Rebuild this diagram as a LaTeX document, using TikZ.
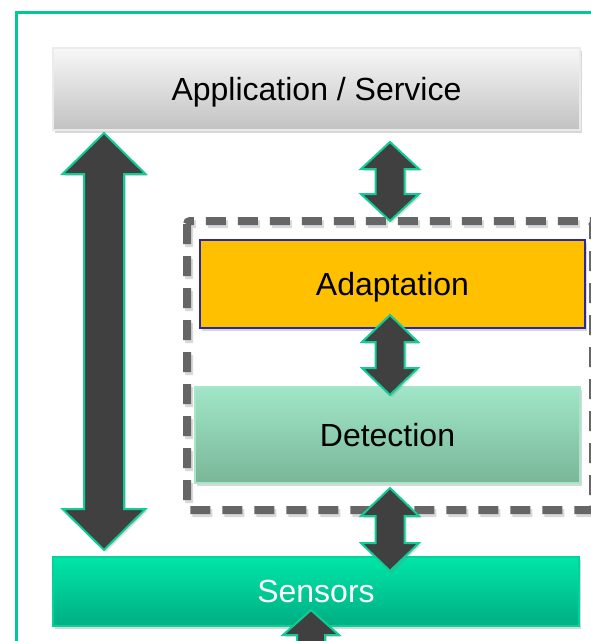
\documentclass[tikz,border=0pt]{standalone}
\usepackage{fontspec}
\setmainfont{Liberation Sans}
\usetikzlibrary{calc,shadows,positioning}
\definecolor{frameg}{HTML}{00C896}
\definecolor{arrfill}{HTML}{404040}
\definecolor{arredge}{HTML}{10CC96}
\definecolor{dashg}{HTML}{666666}
\definecolor{adaptf}{HTML}{FFC000}
\definecolor{adaptd}{HTML}{2828A8}
\definecolor{dett}{HTML}{A0E6C8}
\definecolor{detb}{HTML}{7AB698}
\definecolor{detd}{HTML}{A8E6CA}
\definecolor{sent}{HTML}{00E6A8}
\definecolor{senb}{HTML}{00AE84}
\definecolor{send}{HTML}{00D49C}
\tikzset{
  boxshadow/.style={drop shadow={opacity=0.3,shadow xshift=2pt,shadow yshift=-3pt}},
  layerbox/.style={rectangle,inner sep=0pt,font=\fontsize{32}{38}\selectfont,
    text height=23pt,text depth=0pt,boxshadow},
  fatarrow/.style={fill=arrfill,draw=arredge,line width=2pt,line join=miter,
    drop shadow={opacity=0.25,shadow xshift=2pt,shadow yshift=-2pt}},
  groupline/.style={line width=8pt,dash pattern=on 20pt off 12pt,rounded corners=3pt},
}
% vertical double arrow from top tip #1 to bottom tip #2; #3 shaft half width, #4 head half width, #5 head length
\newcommand\vdarrow[5]{%
  \draw[fatarrow] let \p1=(#1), \p2=(#2) in
    (\x1,\y1) -- (\x1+#4pt,\y1-#5pt) -- (\x1+#3pt,\y1-#5pt) -- (\x1+#3pt,\y2+#5pt)
    -- (\x1+#4pt,\y2+#5pt) -- (\x1,\y2) -- (\x1-#4pt,\y2+#5pt) -- (\x1-#3pt,\y2+#5pt)
    -- (\x1-#3pt,\y1-#5pt) -- (\x1-#4pt,\y1-#5pt) -- cycle;}
\begin{document}
\begin{tikzpicture}[x=1pt,y=-1pt]
\useasboundingbox (0,0) rectangle (591,641);
\clip (0,0) rectangle (591,641);
\fill[white] (0,0) rectangle (591,641);
% outer frame
\draw[frameg,line width=3pt] (16,12) rectangle (620,680);
% dashed group (shadow then line)
\coordinate (g1) at (187,221);
\coordinate (g2) at (593,510);
\draw[groupline,black,opacity=0.15] ([shift={(2,3)}]g1) rectangle ([shift={(2,3)}]g2);
\draw[groupline,dashg] (g1) rectangle (g2);
% boxes
\node[layerbox,minimum width=527pt,minimum height=82pt,top color=white!97!black,bottom color=white!76!black,
  draw=white!92!black,line width=1.5pt] (app) at (316.5,89) {Application / Service};
\node[layerbox,minimum width=385pt,minimum height=88pt,fill=adaptf,draw=adaptd,line width=2.2pt]
  (adapt) at (392.5,284) {Adaptation};
\node[layerbox,minimum width=385pt,minimum height=96pt,top color=dett,bottom color=detb,draw=detd,line width=2pt]
  (det) at (387.5,435) {Detection};
\node[layerbox,minimum width=526pt,minimum height=69pt,top color=sent,bottom color=senb,draw=send,line width=2pt,
  text=white] (sen) at (316,591) {Sensors};
% arrow end points
\coordinate (l1) at (104,133);
\coordinate (l2) at (104,550);
\coordinate (a1) at (390,142);
\coordinate (a2) at (390,221);
\coordinate (b1) at (390,315);
\coordinate (b2) at (390,395);
\coordinate (c1) at (390,488);
\coordinate (c2) at (390,571);
\coordinate (d1) at (311,610);
\coordinate (d2) at (311,700);
\vdarrow{l1}{l2}{20}{41.5}{41}
\vdarrow{a1}{a2}{14.5}{29}{27}
\vdarrow{b1}{b2}{14.5}{28}{27}
\vdarrow{c1}{c2}{14.5}{29}{28}
\vdarrow{d1}{d2}{14}{28}{25}
\end{tikzpicture}
\end{document}
